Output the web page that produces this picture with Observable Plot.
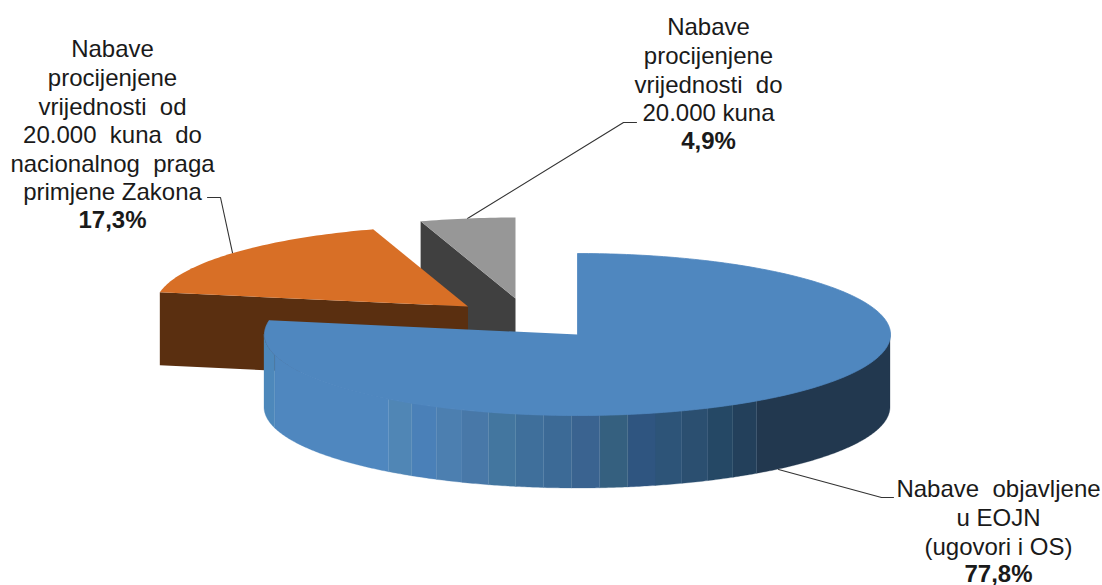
<!DOCTYPE html>
<html>
<head>
<meta charset="utf-8">
<script src="https://cdn.jsdelivr.net/npm/d3@7"></script>
<script src="https://cdn.jsdelivr.net/npm/@observablehq/plot@0.6"></script>
<style>
html,body{margin:0;padding:0;background:#fff}
svg{display:block}
</style>
</head>
<body>
<div id="chart"></div>
<script>
// Data
const names = [
  "Nabave  objavljene\nu EOJN\n(ugovori i OS)",
  "Nabave\nprocijenjene\nvrijednosti  od\n20.000  kuna  do\nnacionalnog  praga\nprimjene Zakona",
  "Nabave\nprocijenjene\nvrijednosti  do\n20.000 kuna"
];
const shares = [77.8, 17.3, 4.9];
const percentLabels = ["77,8%", "17,3%", "4,9%"];

// Styles
const topColors = ["#4f87bf", "#d86f26", "#979797"];
const faceColors = [null, "#5a2f10", "#404040"];
const rimBase = "#4f87bf";
const rimDark = "#22384f";
const rimShades = ["#5086b5","#4a80b8","#4c7fb0","#4878a8","#43769f","#3f6f9b","#3c6a96",
                   "#3a6390","#35607f","#2f5580","#2d5478","#2b4f70","#254865","#23405b"];

// Layout of the exploded pseudo-3D pie (pixels in the identity scales)
const W = 1102, H = 585;
const rx = 313, ry = 81, depth = 73;
const centers = [{x: 577, y: 334}, {x: 467.5, y: 306}, {x: 515, y: 298}];
const labelAt = [{x: 998, y: 489}, {x: 112, y: 49}, {x: 708, y: 27}];
const lineH = 28.6;
const elbows = [
  [{x: 881, y: 497}, {x: 893, y: 497}],
  [{x: 220, y: 197}, {x: 207, y: 197}],
  [{x: 623, y: 122}, {x: 636, y: 122}]
];

const rad = d => d * Math.PI / 180;
const at = (a, c, dy = 0) => ({x: c.x + rx * Math.sin(rad(a)), y: c.y - ry * Math.cos(rad(a)) + dy});
const sweep = (a, b, step = 1) => {
  const out = [];
  for (let t = a; t < b; t += step) out.push(t);
  out.push(b);
  return out;
};

// Angles from the values
const total = d3.sum(shares);
let cum = 0;
const slices = shares.map((v, i) => {
  const a0 = cum / total * 360;
  cum += v;
  const a1 = cum / total * 360;
  return {i, a0, a1, mid: (a0 + a1) / 2, c: centers[i]};
});

const topFace = s => [s.c, ...sweep(s.a0, s.a1).map(a => at(a, s.c))];
const poly = (pts, fill, stroke = "none") =>
  Plot.line(pts, {x: "x", y: "y", fill, stroke, strokeWidth: 0.8, curve: "linear"});

// Front rim of the blue slice, as bands
const rimBand = (a0, a1, fill) => {
  const c = centers[0];
  const pts = sweep(a0, a1, 0.5).map(a => {
    const p = at(a, c);
    return {x: p.x, y1: p.y, y2: p.y + depth};
  });
  return Plot.areaY(pts, {x: "x", y1: "y1", y2: "y2", fill, stroke: fill, strokeWidth: 0.3, curve: "linear"});
};
const rimStart = 145, rimEnd = 217;
const rimStep = (rimEnd - rimStart) / rimShades.length;
const shadesByAngle = rimShades.slice().reverse();

const [blue, orange, grey] = slices;

// Leader lines start on the visible edge at the middle of each slice
const leaders = slices.map(s => [at(s.mid, s.c, s.i === 0 ? depth : 0), ...elbows[s.i]]);

const face = (s, a) => {
  const p = at(a, s.c);
  return [p, s.c, {x: s.c.x, y: s.c.y + depth}, {x: p.x, y: p.y + depth}];
};

const textFont = "Liberation Sans";
const fontSize = 24;

const marks = [
  // leaders below the pie
  ...leaders.map(l => Plot.line(l, {x: "x", y: "y", stroke: "#333", strokeWidth: 1.1, curve: "linear"})),
  // grey slice
  poly(face(grey, grey.a0), faceColors[2]),
  poly(topFace(grey), topColors[2]),
  // orange slice
  poly(face(orange, orange.a0), faceColors[1]),
  poly(topFace(orange), topColors[1]),
  // blue rim
  rimBand(90, rimStart, rimDark),
  ...shadesByAngle.map((f, k) => rimBand(rimStart + k * rimStep, rimStart + (k + 1) * rimStep, f)),
  rimBand(rimEnd, 255, rimBase),
  rimBand(255, 270, "#4d88bb"),
  // blue top
  poly(topFace(blue), topColors[0], topColors[0]),
  // labels
  ...names.map((n, i) => Plot.text([n], {
    x: () => labelAt[i].x, y: () => labelAt[i].y - 12.4, text: d => d,
    lineHeight: lineH / fontSize, textAnchor: "middle",
    lineAnchor: "top", fill: "#1a1a1a"
  })),
  ...percentLabels.map((p, i) => Plot.text([p], {
    x: () => labelAt[i].x,
    y: () => labelAt[i].y + lineH * names[i].split("\n").length - 0.5,
    text: d => d, fontWeight: "bold", textAnchor: "middle",
    lineAnchor: "middle", fill: "#1a1a1a"
  }))
];

const chart = Plot.plot({
  width: W, height: H,
  marginTop: 0, marginRight: 0, marginBottom: 0, marginLeft: 0,
  x: {domain: [0, W], range: [0, W], axis: null},
  y: {domain: [0, H], range: [0, H], axis: null},
  style: {fontFamily: textFont, fontSize: fontSize + "px", background: "#fff", overflow: "hidden"},
  marks
});
document.getElementById("chart").appendChild(chart);
</script>
</body>
</html>
